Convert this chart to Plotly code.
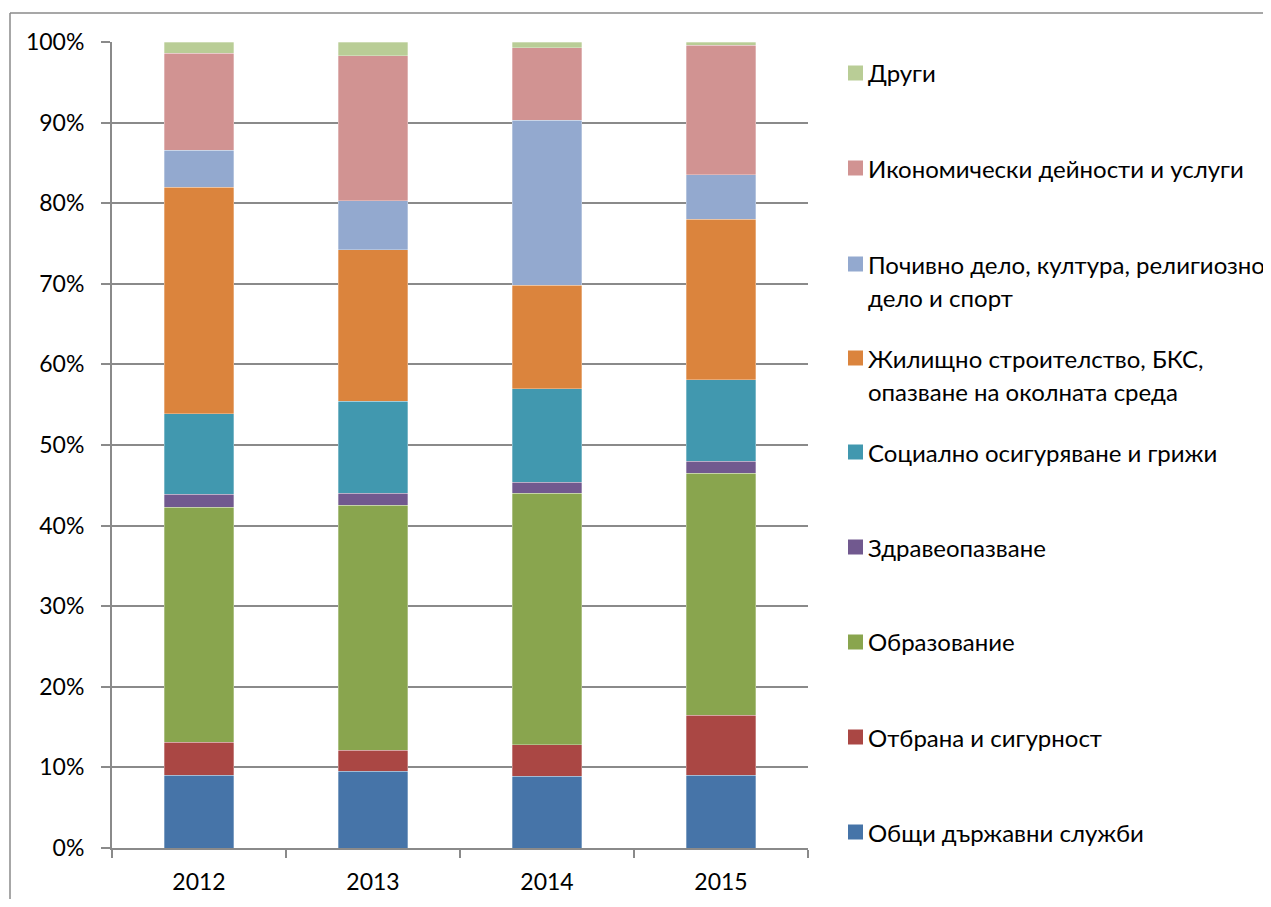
import plotly.graph_objects as go

years = ["2012", "2013", "2014", "2015"]

series_names = [
    "Общи държавни служби",
    "Отбрана и сигурност",
    "Образование",
    "Здравеопазване",
    "Социално осигуряване и грижи",
    "Жилищно строителство, БКС, опазване на околната среда",
    "Почивно дело, култура, религиозно дело и спорт",
    "Икономически дейности и услуги",
    "Други",
]

# legend label lines (as shown in the reference legend)
legend_lines = [
    ["Общи държавни служби"],
    ["Отбрана и сигурност"],
    ["Образование"],
    ["Здравеопазване"],
    ["Социално осигуряване и грижи"],
    ["Жилищно строителство, БКС,", "опазване на околната среда"],
    ["Почивно дело, култура, религиозно", "дело и спорт"],
    ["Икономически дейности и услуги"],
    ["Други"],
]

general = [9.0, 9.5, 8.9, 9.0]
defense = [4.1, 2.6, 3.9, 7.5]
education = [29.2, 30.4, 31.2, 30.0]
health = [1.6, 1.5, 1.4, 1.5]
social = [10.0, 11.4, 11.6, 10.1]
housing = [28.1, 18.8, 12.8, 19.9]
leisure = [4.6, 6.1, 20.5, 5.5]
economic = [12.0, 18.0, 9.0, 16.1]
other = [1.4, 1.7, 0.7, 0.4]

values = [general, defense, education, health, social, housing, leisure, economic, other]

colors = ["#4674A8", "#AA4744", "#89A54E", "#71598F", "#4198AF",
          "#DB843D", "#93A9CF", "#D19392", "#B9CD96"]

FONT = "Lato"

fig = go.Figure()
for name, vals, col in zip(series_names, values, colors):
    fig.add_trace(go.Bar(
        x=years, y=vals, name=name,
        marker=dict(color=col, line=dict(color="rgba(255,255,255,0.5)", width=0.6)),
        showlegend=False,
    ))

# page body has an 8px margin: work in screenshot pixels, shift by OFF
OFF = 8
L, R, T, B = 112, 808, 42, 848
W, H = 1271 - 2 * OFF, 907 - 2 * OFF


def px_x(x):
    return (x - L) / (R - L)


def px_y(y):
    return (B - y) / (B - T)


# manual legend (spacing as in reference)
centers = [832, 737, 642, 547, 452, 358, 264, 168, 73]
shapes = []
annotations = []
for lines, col, cy in zip(legend_lines, colors, centers):
    shapes.append(dict(type="rect", xref="paper", yref="paper",
                       x0=px_x(848), x1=px_x(863), y0=px_y(cy + 7.5), y1=px_y(cy - 7.5),
                       fillcolor=col, line=dict(width=0)))
    for i, ln in enumerate(lines):
        annotations.append(dict(
            text=ln, xref="paper", yref="paper", x=px_x(866), y=px_y(cy + i * 33),
            xanchor="left", yanchor="middle", showarrow=False,
            font=dict(family=FONT, size=24, color="#000000")))

# outer chart border (top and left edges visible in the reference)
shapes.append(dict(type="line", xref="paper", yref="paper",
                   x0=px_x(10), x1=px_x(1264), y0=px_y(13), y1=px_y(13),
                   line=dict(color="#8a8a8a", width=1.5), layer="below"))
shapes.append(dict(type="line", xref="paper", yref="paper",
                   x0=px_x(10), x1=px_x(10), y0=px_y(13), y1=px_y(900),
                   line=dict(color="#8a8a8a", width=1.5), layer="below"))

fig.update_layout(
    barmode="stack",
    bargap=0.6,
    width=W, height=H,
    margin=dict(l=L - OFF, r=W + OFF - R, t=T - OFF, b=H + OFF - B, pad=0),
    paper_bgcolor="white", plot_bgcolor="white",
    font=dict(family=FONT, size=23, color="#000000"),
    shapes=shapes,
    annotations=annotations,
    showlegend=False,
)
fig.update_xaxes(
    type="category", showline=True, linecolor="#8a8a8a", linewidth=2,
    ticks="outside", ticklen=8, tickcolor="#8a8a8a", tickwidth=2,
    tickson="boundaries", showgrid=False, ticklabelstandoff=12,
    tickfont=dict(family=FONT, size=23), automargin=False,
)
fig.update_yaxes(
    range=[0, 100], dtick=10, ticksuffix="%",
    showline=True, linecolor="#8a8a8a", linewidth=2,
    ticks="outside", ticklen=9, tickcolor="#8a8a8a", tickwidth=2,
    showgrid=True, gridcolor="#8a8a8a", gridwidth=2,
    zeroline=False, ticklabelstandoff=12,
    tickfont=dict(family=FONT, size=23), automargin=False,
)

fig.write_html("out.html")
